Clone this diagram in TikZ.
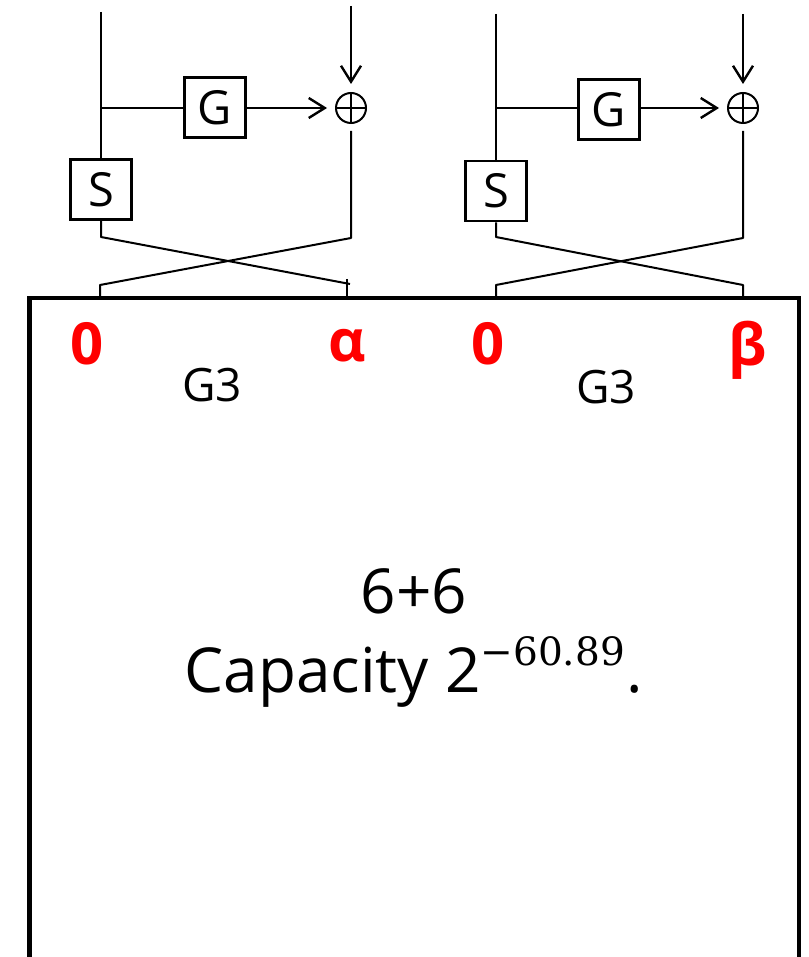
\documentclass[tikz,border=0pt]{standalone}
\usepackage{fontspec}
\setmainfont{Open Sans}
\newfontfamily\supfont{DejaVu Serif}
\usetikzlibrary{arrows.meta}
\tikzset{
  x=1pt,y=-1pt,
  wire/.style={draw=black,line width=2pt,line join=round},
  flow/.style={wire,-{Straight Barb[length=16pt,width=20pt,line width=2.4pt]}},
  boxnode/.style={draw=black,line width=2.6pt,minimum width=61pt,minimum height=60pt,inner sep=0pt,font=\fontsize{47}{50}\selectfont,text=black},
  xornode/.style={draw=black,line width=2pt,circle,minimum size=30pt,inner sep=0pt,
    path picture={\draw[line width=1.8pt] (path picture bounding box.north)--(path picture bounding box.south) (path picture bounding box.west)--(path picture bounding box.east);}},
  glabel/.style={font=\fontsize{46}{50}\selectfont,text=black,inner sep=0pt},
  redlabel/.style={font=\fontsize{58}{60}\bfseries\selectfont,text=red,inner sep=0pt},
  frameline/.style={draw=black,line width=4.6pt,line join=miter}
}
\begin{document}
\begin{tikzpicture}
\useasboundingbox (0,0) rectangle (808,957);
\fill[white] (0,0) rectangle (808,957);
% left round
\node[boxnode] (g1) at (215,107.5) {\raisebox{-2pt}{G}};
\node[boxnode] (s1) at (101,189.5) {S};
\node[xornode] (x1) at (351,108) {};
\coordinate (t1) at (101,12);
\coordinate (b1) at (101,108);
\coordinate (k1) at (351,6);
\coordinate (sa1) at (101,237);
\coordinate (xa1) at (351,238);
\coordinate (pa1) at (100,285);
\coordinate (pb1) at (100,297);
\coordinate (qa1) at (350,284);
\coordinate (qb1) at (347,279);
\coordinate (qc1) at (347,297);
\draw[wire] (t1) -- (s1.north);
\draw[wire] (b1) -- (b1 -| g1.west);
\draw[flow,shorten >=8pt] (g1.east |- x1) -- (x1.west);
\draw[flow,shorten >=8pt] (k1) -- (x1.north);
\draw[wire,shorten <=7pt] (x1.south) -- (xa1) -- (pa1) -- (pb1);
\draw[wire] (s1.south) -- (sa1) -- (qa1);
\draw[wire] (qb1) -- (qc1);
% right round
\node[boxnode] (g2) at (609,109.5) {\raisebox{-2pt}{G}};
\node[boxnode] (s2) at (496,191) {S};
\node[xornode] (x2) at (743,108) {};
\coordinate (t2) at (496,14);
\coordinate (b2) at (496,108);
\coordinate (k2) at (743,14);
\coordinate (sa2) at (496,237);
\coordinate (xa2) at (743,238);
\coordinate (pa2) at (496,285);
\coordinate (pb2) at (496,297);
\coordinate (qa2) at (743,285);
\coordinate (qb2) at (743,297);
\draw[wire] (t2) -- (s2.north);
\draw[wire] (b2) -- (b2 -| g2.west);
\draw[flow,shorten >=8pt] (g2.east |- x2) -- (x2.west);
\draw[flow,shorten >=8pt] (k2) -- (x2.north);
\draw[wire,shorten <=7pt] (x2.south) -- (xa2) -- (pa2) -- (pb2);
\draw[wire] (s2.south) -- (sa2) -- (qa2) -- (qb2);
% frame
\draw[frameline] (29.5,957) -- (29.5,298) -- (799,298) -- (799,957);
% labels
\node[redlabel] (z1) at (87,343.5) {0};
\node[redlabel] (al) at (347,346) {α};
\node[redlabel] (z2) at (488,343.5) {0};
\node[redlabel] (be) at (748,350) {β};
\node[glabel] (l1) at (212,385) {G3};
\node[glabel] (l2) at (606,387) {G3};
\node[anchor=base,inner sep=0pt,align=center,text=black,font=\fontsize{62}{79}\selectfont] (main) at (414,692)
  {6+6\\Capacity 2\raisebox{27pt}{\supfont\fontsize{39}{40}\selectfont −60.89}\kern2pt.};
\end{tikzpicture}
\end{document}
